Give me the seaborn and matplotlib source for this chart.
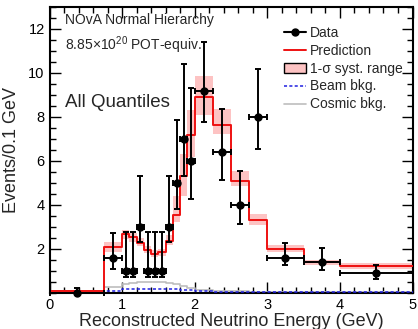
import numpy as np
import matplotlib
matplotlib.use("Agg")
import matplotlib.pyplot as plt
import seaborn as sns
from matplotlib.lines import Line2D
from matplotlib.patches import Patch

# ---------------- data ----------------
edges = [0.0, 0.75, 1.0, 1.1, 1.2, 1.3, 1.4, 1.5, 1.6, 1.7, 1.8, 1.9, 2.0,
         2.25, 2.5, 2.75, 3.0, 3.5, 4.0, 5.0]
prediction = [0.10, 2.08, 2.67, 2.53, 2.29, 1.95, 1.76, 1.87, 2.38, 3.56, 5.33,
              7.18, 8.90, 7.62, 5.10, 3.30, 2.00, 1.42, 1.22]
syst_lo = [0.05, 1.88, 2.45, 2.33, 2.12, 1.80, 1.62, 1.70, 2.17, 3.25, 4.42,
           6.20, 8.10, 7.23, 4.85, 3.08, 1.85, 1.28, 1.10]
syst_hi = [0.15, 2.30, 2.88, 2.75, 2.50, 2.12, 1.95, 2.02, 2.65, 4.40, 6.30,
           8.30, 9.85, 8.36, 5.56, 3.60, 2.20, 1.52, 1.35]
cosmic_bkg = [0.02, 0.27, 0.43, 0.47, 0.50, 0.51, 0.50, 0.48, 0.45, 0.40, 0.33,
              0.25, 0.15, 0.10, 0.08, 0.06, 0.05, 0.04, 0.03]
beam_bkg = [0.02, 0.07, 0.16, 0.17, 0.18, 0.18, 0.18, 0.18, 0.17, 0.16, 0.15,
            0.12, 0.08, 0.06, 0.05, 0.05, 0.05, 0.05, 0.05]
data = [0.0, 1.6, 1.0, 1.0, 3.0, 1.0, 1.0, 1.0, 3.0, 5.0, 7.0, 6.0, 9.2, 6.4,
        4.0, 8.0, 1.6, 1.4, 0.9]
data_top = [0.22, 2.73, 2.79, 2.79, 5.33, 2.79, 2.79, 2.79, 5.33, 7.86, 10.4,
            9.3, 11.4, 8.36, 5.56, 10.2, 2.27, 2.06, 1.29]
data_bottom = [0.0, 1.09, 0.75, 0.75, 2.33, 0.75, 0.75, 0.75, 2.33, 3.82, 5.3,
               4.27, 7.79, 5.14, 3.12, 6.55, 1.27, 1.06, 0.64]

xticks = [0, 1, 2, 3, 4, 5]
yticks = [2, 4, 6, 8, 10, 12]

# ---------------- style ----------------
sns.set_theme(style="ticks")
plt.rcParams['font.family'] = ['Liberation Sans', 'DejaVu Sans']
plt.rcParams['mathtext.default'] = 'regular'

W, H = 418, 329
fig = plt.figure(figsize=(W / 100, H / 100), dpi=100)
fig.patch.set_facecolor('white')
left, right, top, bottom = 49.5, 412.5, 6.5, 293.0
ax = fig.add_axes([left / W, (H - bottom) / H, (right - left) / W, (bottom - top) / H])

e = np.array(edges)
centers = 0.5 * (e[:-1] + e[1:])
halfw = 0.5 * (e[1:] - e[:-1])

# systematic band
ax.stairs(syst_hi, e, baseline=syst_lo, fill=True, color='#fdc3c3', lw=0, zorder=1)

def step_df(vals):
    return list(e), list(vals) + [vals[-1]]

xs, ys = step_df(cosmic_bkg)
sns.lineplot(x=xs, y=ys, drawstyle='steps-post', color='#bdbdbd', lw=1.2, ax=ax,
             zorder=2, sort=False)
xs, ys = step_df(beam_bkg)
sns.lineplot(x=xs, y=ys, drawstyle='steps-post', color='#1f1fe0', lw=1.1, ax=ax,
             zorder=3, sort=False, linestyle=(0, (2, 1.5)))
xs, ys = step_df(prediction)
sns.lineplot(x=xs, y=ys, drawstyle='steps-post', color='#ee1111', lw=1.4, ax=ax,
             zorder=4, sort=False)

d = np.array(data)
yerr = np.vstack([d - np.array(data_bottom), np.array(data_top) - d])
ax.errorbar(centers, d, xerr=halfw, yerr=yerr, fmt='o', color='black', ms=5,
            elinewidth=1.4, capsize=2.5, capthick=1.4, zorder=6, clip_on=False)

ax.set_xlim(0, 5)
ax.set_ylim(0, (bottom - top) / 22.0)
ax.set_xticks(xticks)
ax.set_yticks(yticks)
ax.set_xticks(np.arange(0, 5.01, 0.2), minor=True)
ax.set_yticks(np.arange(0, 13.01, 0.5), minor=True)
ax.tick_params(which='both', direction='in', top=True, right=True, colors='black',
               labelsize=10.5, width=1.0)
ax.tick_params(which='major', length=8)
ax.tick_params(which='minor', length=4)
for s in ax.spines.values():
    s.set_linewidth(1.5)
    s.set_color('black')

ax.set_xlabel('Reconstructed Neutrino Energy (GeV)', fontsize=13, labelpad=1)
ax.set_ylabel('Events/0.1 GeV', fontsize=13, labelpad=6)

ax.text(0.22, 12.4, 'NOvA Normal Hierarchy', fontsize=10, va='center', ha='left')
ax.text(0.22, 11.27, '8.85×10$^{20}$ POT-equiv.', fontsize=10, va='center', ha='left')
ax.text(0.22, 8.68, 'All Quantiles', fontsize=13.5, va='center', ha='left')

handles = [
    Line2D([], [], color='black', marker='o', ms=5, lw=1.5),
    Line2D([], [], color='#ee1111', lw=1.4),
    Patch(facecolor='#fdc3c3', edgecolor='black', lw=1.0),
    Line2D([], [], color='#1f1fe0', lw=1.1, linestyle=(0, (2, 1.5))),
    Line2D([], [], color='#bdbdbd', lw=1.2),
]
labels = ['Data', 'Prediction', '1-σ syst. range', 'Beam bkg.', 'Cosmic bkg.']
ax.legend(handles, labels, loc='upper left', bbox_to_anchor=(0.63, 0.952),
          frameon=False, fontsize=10, handlelength=1.6, handletextpad=0.3,
          labelspacing=0.28, borderaxespad=0)

sns.despine(ax=ax, top=False, right=False)
fig.savefig('out.png', dpi=100)
